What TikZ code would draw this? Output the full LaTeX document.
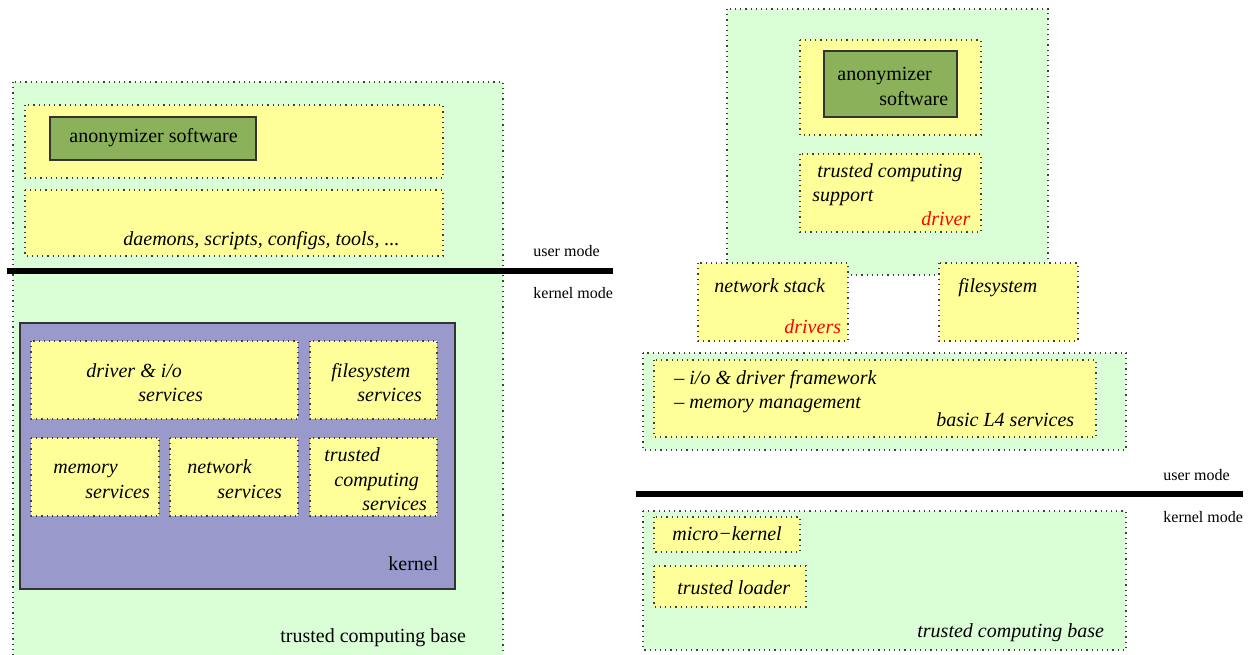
\documentclass[tikz,border=0pt]{standalone}
\usepackage{fontspec}
\setmainfont{Liberation Serif}
\usepackage{xcolor}
\usepackage{tikz}

\definecolor{tcbgreen}{RGB}{218,255,214}
\definecolor{svcyellow}{RGB}{255,255,153}
\definecolor{appgreen}{RGB}{139,178,90}
\definecolor{krnblue}{RGB}{153,153,204}

\tikzset{
  tcb/.style={draw=black!75, dotted, line width=0.6pt, fill=tcbgreen},
  svc/.style={draw=black!75, dotted, line width=0.6pt, fill=svcyellow},
  app/.style={draw=black!80, line width=0.6pt, fill=appgreen},
  krn/.style={draw=black!80, line width=0.6pt, fill=krnblue},
  lbl/.style={anchor=base west, inner sep=0pt, font=\fontsize{10}{12}\selectfont},
  ilbl/.style={anchor=base west, inner sep=0pt, font=\fontsize{10}{12}\selectfont\itshape},
  mode/.style={anchor=base west, inner sep=0pt, font=\fontsize{8}{9}\selectfont},
  modeline/.style={line width=3pt},
}

\begin{document}
\begin{tikzpicture}[x=0.5pt,y=-0.5pt]
  \useasboundingbox (0,0) rectangle (1249,654);
  \clip (0,0) rectangle (1249,654);

  % monolithic system (left)
  \draw[tcb] (13,82) rectangle (503,670);
  \draw[svc] (25,105) rectangle (443,178);
  \draw[app] (50,117) rectangle (256,160);
  \node[lbl] (anonL) at (69,142) {anonymizer software};
  \draw[svc] (25,190) rectangle (443,256);
  \node[ilbl] (tools) at (123,245) {daemons, scripts, configs, tools, ...};

  \coordinate (lineLa) at (7,271);
  \coordinate (lineLb) at (613,271);
  \draw[modeline] (lineLa) -- (lineLb);
  \node[mode] (userL) at (533,256) {user mode};
  \node[mode] (kernL) at (533,298) {kernel mode};

  \draw[krn] (20,323) rectangle (455,589);
  \node[lbl] (kernel) at (388,570) {kernel};
  \draw[svc] (31,341) rectangle (298,419);
  \node[ilbl] (drvA) at (86,377) {driver \& i/o};
  \node[ilbl] (drvB) at (138,401) {services};
  \draw[svc] (310,341) rectangle (437,419);
  \node[ilbl] (fsA) at (331,377) {filesystem};
  \node[ilbl] (fsB) at (357,401) {services};
  \draw[svc] (31,438) rectangle (159,516);
  \node[ilbl] (memA) at (53,473) {memory};
  \node[ilbl] (memB) at (85,498) {services};
  \draw[svc] (170,438) rectangle (298,516);
  \node[ilbl] (netA) at (187,473) {network};
  \node[ilbl] (netB) at (217,498) {services};
  \draw[svc] (310,438) rectangle (437,516);
  \node[ilbl] (tcA) at (324,461) {trusted};
  \node[ilbl] (tcB) at (334,486) {computing};
  \node[ilbl] (tcC) at (362,510) {services};
  \node[lbl] (tcbL) at (280,642) {trusted computing base};

  % micro-kernel system (right)
  \draw[tcb] (727,9) rectangle (1048,275);
  \draw[svc] (800,40) rectangle (981,135);
  \draw[app] (824,51) rectangle (957,117);
  \node[lbl] (anonRa) at (837,80) {anonymizer};
  \node[lbl] (anonRb) at (879,105) {software};
  \draw[svc] (800,154) rectangle (981,232);
  \node[ilbl] (tcsA) at (817,177) {trusted computing};
  \node[ilbl] (tcsB) at (812,201) {support};
  \node[ilbl, red] (tcsC) at (921,225) {driver};

  \draw[svc] (698,263) rectangle (848,341);
  \node[ilbl] (nsA) at (714,292) {network stack};
  \node[ilbl, red] (nsB) at (784,333) {drivers};
  \draw[svc] (939,263) rectangle (1078,341);
  \node[ilbl] (fsR) at (958,292) {filesystem};

  \draw[tcb] (643,353) rectangle (1126,450);
  \draw[svc] (654,360) rectangle (1096,437);
  \node[ilbl] (l4A) at (674,384) {– i/o \& driver framework};
  \node[ilbl] (l4B) at (674,408) {– memory management};
  \node[ilbl] (l4C) at (936,426) {basic L4 services};

  \coordinate (lineRa) at (636,494);
  \coordinate (lineRb) at (1243,494);
  \draw[modeline] (lineRa) -- (lineRb);
  \node[mode] (userR) at (1163,480) {user mode};
  \node[mode] (kernR) at (1163,522) {kernel mode};

  \draw[tcb] (643,511) rectangle (1126,650);
  \draw[svc] (654,517) rectangle (800,552);
  \node[ilbl] (mk) at (672,540) {micro−kernel};
  \draw[svc] (654,566) rectangle (806,607);
  \node[ilbl] (tl) at (677,594) {trusted loader};
  \node[ilbl] (tcbR) at (917,637) {trusted computing base};
\end{tikzpicture}
\end{document}
